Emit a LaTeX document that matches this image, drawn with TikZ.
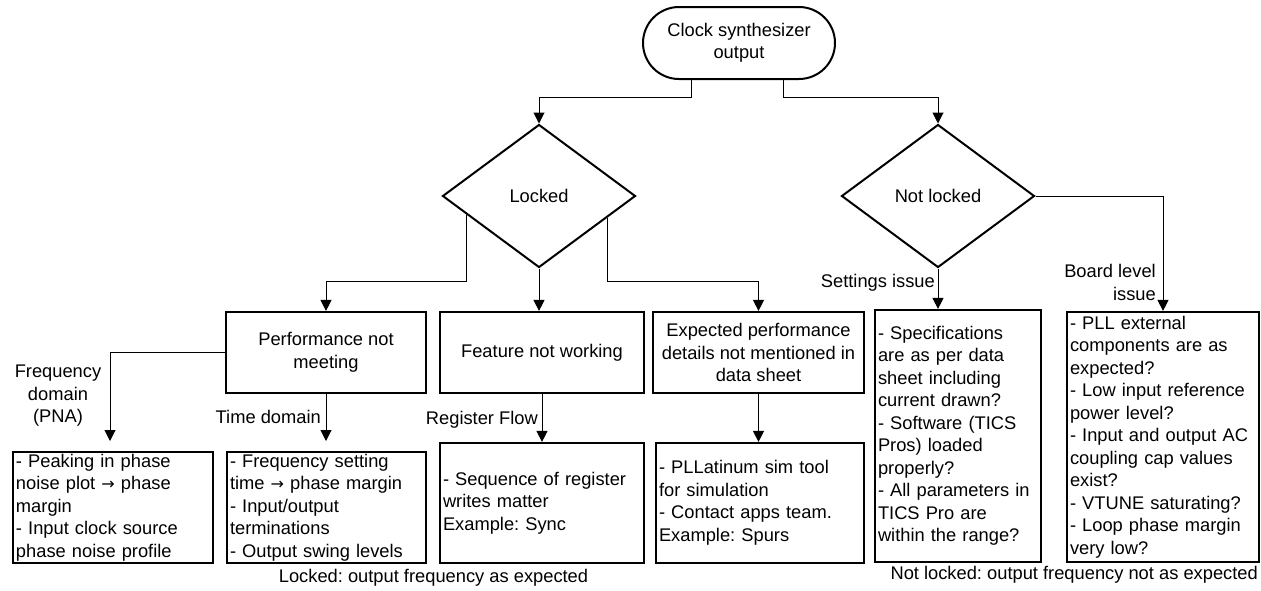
\documentclass[tikz,border=0pt]{standalone}
\usepackage{fontspec}
\setmainfont{Liberation Sans}
\newfontfamily\arrowfont{DejaVu Sans}
\newcommand{\rarr}{{\arrowfont\fontsize{16}{22.5}\selectfont →}}
\usetikzlibrary{arrows.meta,shapes.geometric,calc}
\frenchspacing
\begin{document}
\begin{tikzpicture}[x=1pt,y=-1pt,
  font=\fontsize{18.3}{22.5}\selectfont\frenchspacing,
  conn/.style={line width=1pt,-{Triangle[width=11pt,length=11pt]}},
  topbox/.style={draw,line width=2.2pt,inner sep=0pt,align=center},
  listbox/.style={draw,line width=2.2pt,inner xsep=3pt,inner ysep=0pt,align=left},
  decide/.style={draw,diamond,line width=2pt,inner sep=0pt,minimum width=193pt,minimum height=143pt},
  lbl/.style={inner sep=0pt}]
\useasboundingbox (0,0) rectangle (1261,590);

\node[draw,line width=2pt,rounded corners=36pt,minimum width=192pt,minimum height=72pt,align=center] (start) at (739,43) {Clock synthesizer\\output};

\node[decide] (lk) at (539,196) {Locked};
\node[decide] (nl) at (938,196) {Not locked};

\node[topbox,minimum width=200pt,minimum height=81pt] (perf) at (326,352.5) {Performance not\\meeting};
\node[topbox,minimum width=204pt,minimum height=81pt] (feat) at (542,352.5) {Feature not working};
\node[topbox,minimum width=211pt,minimum height=81pt] (expd) at (758.5,352.5) {Expected performance\\details not mentioned in\\data sheet};

\node[listbox,text width=160pt,minimum height=252pt] (sett) at (958,436) {- Specifications\\are as per data\\sheet including\\current drawn?\\- Software (TICS\\Pros) loaded\\properly?\\- All parameters in\\TICS Pro are\\within the range?};
\node[listbox,text width=186pt,minimum height=250pt] (board) at (1163,437) {- PLL external\\components are as\\expected?\\- Low input reference\\power level?\\- Input and output AC\\coupling cap values\\exist?\\- VTUNE saturating?\\- Loop phase margin\\very low?};

\node[listbox,text width=194pt,minimum height=111pt] (peak) at (113,507.5) {- Peaking in phase\\noise plot \rarr{} phase\\margin\\- Input clock source\\phase noise profile};
\node[listbox,text width=193pt,minimum height=111pt] (freq) at (326.5,507.5) {- Frequency setting\\time \rarr{} phase margin\\- Input/output\\terminations\\- Output swing levels};
\node[listbox,text width=198pt,minimum height=120pt] (seq) at (542,503) {- Sequence of register\\writes matter\\Example: Sync};
\node[listbox,text width=202pt,minimum height=120pt] (pll) at (760,503) {- PLLatinum sim tool\\for simulation\\- Contact apps team.\\Example: Spurs};

% connectors from start
\draw[conn] ($(start.south)+(-48,0)$) -- ++(0,17) -| (lk.north);
\draw[conn] ($(start.south)+(44,0)$) -- ++(0,17) -| (nl.north);

% locked branches
\coordinate (lrow) at (0,281);
\coordinate (lkL) at ($(lk.west)!0.26!(lk.south)$);
\coordinate (lkR) at ($(lk.east)!0.3!(lk.south)$);
\draw[conn] (lkL) -- (lkL |- lrow) -| (perf.north);
\draw[conn] (lk.south) -- (lk.south |- feat.north);
\draw[conn] (lkR) -- (lkR |- lrow) -| (expd.north);

% not locked branches
\draw[conn] (nl.south) -- (nl.south |- sett.north);
\draw[conn] (nl.east) -| (board.north);
\node[lbl,anchor=east] (setlbl) at (935,283) {Settings issue};
\node[lbl,anchor=east,align=right] (boardlbl) at (1156,282.5) {Board level\\issue};

% second level
\coordinate (r2top) at (0,441);
\coordinate (pkin) at (110,441);
\draw[conn] (perf.west) -| (pkin);
\draw[conn] (perf.south) -- (perf.south |- r2top);
\draw[conn] (feat.south) -- (feat.south |- seq.north);
\draw[conn] (expd.south) -- (expd.south |- pll.north);

\node[lbl,align=center] (fdl) at (58,396) {Frequency\\domain\\(PNA)};
\node[lbl,anchor=east] (tdl) at (321,417) {Time domain};
\node[lbl,anchor=east] (rfl) at (538,420) {Register Flow};

\node[lbl] (lkcap) at (433.5,578) {Locked: output frequency as expected};
\node[lbl,anchor=east] (nlcap) at (1258,575) {Not locked: output frequency not as expected};
\end{tikzpicture}
\end{document}
